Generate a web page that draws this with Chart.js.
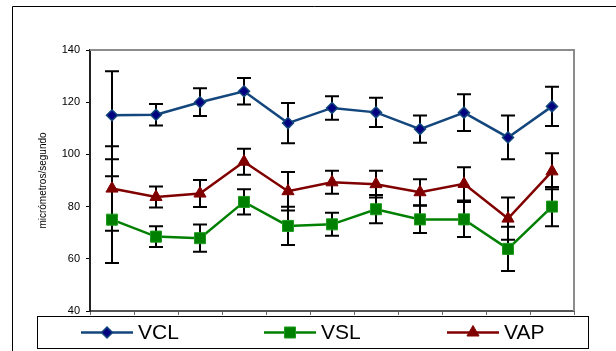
<!DOCTYPE html>
<html>
<head>
<meta charset="utf-8">
<style>
  html, body { margin: 0; padding: 0; background: #fff; }
  #wrap { position: relative; width: 616px; height: 351px; }
</style>
<script src="https://cdn.jsdelivr.net/npm/chart.js@4/dist/chart.umd.min.js"></script>
</head>
<body>
<div id="wrap"><canvas id="c" width="616" height="351"></canvas></div>
<script>
// Sample groups along the x axis (not labelled on the chart)
const groups = ['1', '2', '3', '4', '5', '6', '7', '8', '9', '10', '11'];

// Mean velocities (micrómetros/segundo)
const vcl = [115.0, 115.2, 120.0, 124.2, 112.0, 117.8, 116.1, 109.7, 116.0, 106.5, 118.4];
const vsl = [75.0, 68.5, 67.9, 81.8, 72.6, 73.2, 79.0, 75.1, 75.1, 63.8, 80.0];
const vap = [86.9, 83.7, 85.0, 97.2, 85.9, 89.3, 88.6, 85.5, 88.7, 75.4, 93.5];

// Error bar half-lengths (±)
const vclErr = [16.9, 4.1, 5.3, 5.1, 7.7, 4.5, 5.6, 5.2, 7.0, 8.4, 7.5];
const vslErr = [16.6, 4.0, 5.2, 4.8, 7.3, 4.4, 5.4, 5.2, 6.7, 8.5, 7.5];
const vapErr = [16.2, 4.0, 5.2, 5.0, 7.4, 4.4, 5.1, 5.0, 6.4, 8.1, 6.9];

// y axis range and tick step
const yMin = 40, yMax = 140, yStep = 20;

const FONT = 'Arial, "Liberation Sans", sans-serif';

function markerPath(ctx, style, x, y, r) {
  ctx.beginPath();
  if (style === 'rectRot') {
    ctx.moveTo(x - r, y); ctx.lineTo(x, y - r); ctx.lineTo(x + r, y); ctx.lineTo(x, y + r);
  } else if (style === 'rect') {
    const s = Math.SQRT1_2 * r;
    ctx.rect(x - s, y - s, 2 * s, 2 * s);
  } else {
    const a = 2 * Math.PI / 3;
    ctx.moveTo(x, y - r);
    ctx.lineTo(x + Math.sin(a) * r, y - Math.cos(a) * r);
    ctx.lineTo(x + Math.sin(2 * a) * r, y - Math.cos(2 * a) * r);
  }
  ctx.closePath();
}

// Error bars, plot frame and outer border
const decorations = {
  id: 'decorations',
  beforeDatasetsDraw(chart) {
    const { ctx, chartArea: a, scales: { x, y } } = chart;
    ctx.save();
    // plot area frame (top and right)
    ctx.strokeStyle = '#8c8c8c';
    ctx.lineWidth = 2;
    ctx.beginPath();
    ctx.moveTo(a.left, a.top);
    ctx.lineTo(a.right, a.top);
    ctx.lineTo(a.right, a.bottom);
    ctx.stroke();
    // error bars
    ctx.strokeStyle = '#000';
    ctx.lineWidth = 2;
    chart.data.datasets.forEach(ds => {
      ds.data.forEach((v, i) => {
        const e = ds.errors[i];
        const px = x.getPixelForValue(i);
        const yt = y.getPixelForValue(v + e);
        const yb = y.getPixelForValue(v - e);
        ctx.beginPath();
        ctx.moveTo(px, yt); ctx.lineTo(px, yb);
        ctx.moveTo(px - 7, yt); ctx.lineTo(px + 7, yt);
        ctx.moveTo(px - 7, yb); ctx.lineTo(px + 7, yb);
        ctx.stroke();
      });
    });
    ctx.restore();
  },
  afterDraw(chart) {
    const { ctx } = chart;
    ctx.save();
    // outer border (left and top)
    ctx.strokeStyle = '#000';
    ctx.lineWidth = 1;
    ctx.beginPath();
    ctx.moveTo(12.5, 351);
    ctx.lineTo(12.5, 6.5);
    ctx.lineTo(616, 6.5);
    ctx.stroke();

    // legend box
    const bx = 37.5, by = 316.5, bw = 551, bh = 32;
    ctx.fillStyle = '#fff';
    ctx.fillRect(bx, by, bw, bh);
    ctx.strokeStyle = '#000';
    ctx.strokeRect(bx, by, bw, bh);
    const starts = [81, 264, 447];
    const cy = 332.5;
    ctx.font = '21px ' + FONT;
    ctx.textBaseline = 'middle';
    ctx.textAlign = 'left';
    chart.data.datasets.forEach((ds, k) => {
      const x0 = starts[k];
      ctx.strokeStyle = ds.borderColor;
      ctx.lineWidth = ds.borderWidth;
      ctx.beginPath();
      ctx.moveTo(x0, cy); ctx.lineTo(x0 + 52, cy);
      ctx.stroke();
      markerPath(ctx, ds.pointStyle, x0 + 26, cy, ds.pointRadius);
      ctx.fillStyle = ds.pointBackgroundColor;
      ctx.fill();
      ctx.strokeStyle = ds.pointBorderColor;
      ctx.lineWidth = ds.pointBorderWidth;
      ctx.stroke();
      ctx.fillStyle = '#000';
      ctx.fillText(ds.label, x0 + 57, cy + 1);
    });
    ctx.restore();
  }
};

new Chart(document.getElementById('c'), {
  type: 'line',
  data: {
    labels: groups,
    datasets: [
      {
        label: 'VCL', data: vcl, errors: vclErr,
        borderColor: '#13467C', borderWidth: 2.5,
        pointStyle: 'rectRot', pointRadius: 5.5,
        pointBackgroundColor: '#000080', pointBorderColor: '#13467C', pointBorderWidth: 1.5
      },
      {
        label: 'VSL', data: vsl, errors: vslErr,
        borderColor: '#008000', borderWidth: 2.5,
        pointStyle: 'rect', pointRadius: 7.8,
        pointBackgroundColor: '#008000', pointBorderColor: '#1f9a1f', pointBorderWidth: 1
      },
      {
        label: 'VAP', data: vap, errors: vapErr,
        borderColor: '#800000', borderWidth: 2.5,
        pointStyle: 'triangle', pointRadius: 7,
        pointBackgroundColor: '#800000', pointBorderColor: '#800000', pointBorderWidth: 1
      }
    ]
  },
  options: {
    responsive: false,
    animation: false,
    devicePixelRatio: 1,
    layout: { padding: { left: 0, right: 42, top: 50, bottom: 0 } },
    elements: { line: { tension: 0 } },
    plugins: { legend: { display: false }, tooltip: { enabled: false } },
    scales: {
      x: {
        offset: true,
        afterFit(s) { s.height = 40; },
        grid: { display: true, offset: true, drawOnChartArea: false, drawTicks: true, tickLength: 4, color: '#666', lineWidth: 1 },
        border: { display: true, color: '#555', width: 2 },
        ticks: { display: false }
      },
      y: {
        min: yMin, max: yMax,
        afterFit(s) { s.width = 90; },
        ticks: { stepSize: yStep, padding: 6, color: '#000', font: { family: FONT, size: 11 } },
        grid: { drawOnChartArea: false, drawTicks: true, tickLength: 4, color: '#000' },
        border: { display: true, color: '#222', width: 2 },
        title: {
          display: true, text: 'micrómetros/segundo', color: '#000',
          font: { family: FONT, size: 10 }, padding: { top: 37, bottom: 0 }
        }
      }
    }
  },
  plugins: [decorations]
});
</script>
</body>
</html>
